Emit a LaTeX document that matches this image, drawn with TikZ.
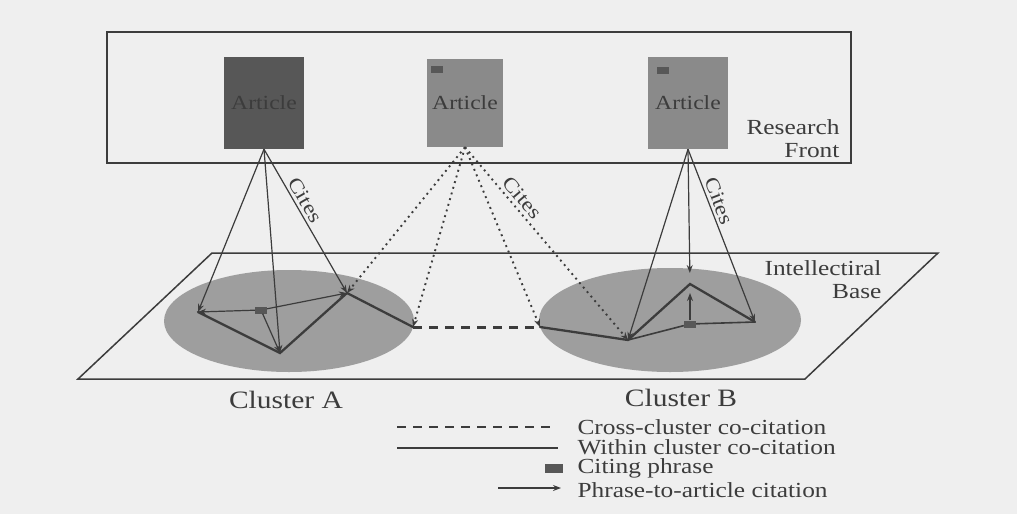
\documentclass[tikz,border=0pt]{standalone}
\usepackage{fontspec}
\setmainfont{Liberation Serif}[FakeStretch=1.18]
\usetikzlibrary{arrows.meta,shapes.geometric}
\definecolor{bgpaper}{HTML}{EFEFEF}
\definecolor{inkgray}{HTML}{3C3C3C}
\definecolor{artdark}{HTML}{575757}
\definecolor{artmid}{HTML}{8A8A8A}
\definecolor{clusgray}{HTML}{9E9E9E}

\begin{document}
\begin{tikzpicture}[x=1pt, y=-1pt,
  article/.style={rectangle, fill=artmid, minimum width=80pt, minimum height=92pt, inner sep=0pt, text=inkgray, font=\fontsize{20}{22}\selectfont},
  phrasebox/.style={rectangle, fill=artdark, minimum width=12pt, minimum height=7pt, inner sep=0pt},
  cluster/.style={ellipse, fill=clusgray, inner sep=0pt},
  cites/.style={inkgray, line width=1.2pt, -{Stealth[length=8pt,width=6pt]}},
  crosscite/.style={inkgray, line width=1.9pt, dash pattern=on 1.9pt off 4pt, -{Stealth[length=8pt,width=6pt]}},
  within/.style={inkgray, line width=2.3pt, line cap=round},
  crossco/.style={inkgray, line width=3pt, dash pattern=on 9pt off 7pt},
  lbl/.style={text=inkgray, font=\fontsize{21.5}{23}\selectfont},
  citelbl/.style={text=inkgray, font=\fontsize{20}{22}\selectfont, sloped, above},
]
\useasboundingbox (0,0) rectangle (1017,514);
\fill[bgpaper] (0,0) rectangle (1017,514);

% research front
\draw[inkgray, line width=1.6pt] (107,32) rectangle (851,163);
\node[article, fill=artdark] (art1) at (264,103) {Article};
\node[article, minimum width=76pt, minimum height=88pt] (art2) at (465,103) {Article};
\node[article] (art3) at (688,103) {Article};
\node[phrasebox] (ph2) at (437,69) {};
\node[phrasebox] (ph3) at (663,70) {};
\node[lbl, anchor=east, align=right] (front) at (843,139) {Research\\Front};

% intellectual base
\draw[inkgray, line width=1.5pt] (212,253) -- (938,253) -- (805,379) -- (78,379) -- cycle;
\node[lbl, anchor=east, align=right] (base) at (885,280) {Intellectiral\\Base};
\node[cluster, minimum width=250pt, minimum height=102pt] (clA) at (289,321) {};
\node[cluster, minimum width=262pt, minimum height=104pt] (clB) at (670,320) {};
\node[lbl, font=\fontsize{25}{27}\selectfont] (labA) at (286,400) {Cluster A};
\node[lbl, font=\fontsize{25}{27}\selectfont] (labB) at (681,398) {Cluster B};

% cluster A
\coordinate (a1) at (198,312);
\coordinate (a2) at (280,353);
\coordinate (a3) at (347,293);
\coordinate (a4) at (413,327);
\node[phrasebox] (pA) at (261,310) {};
% cluster B
\coordinate (b1) at (540,327);
\coordinate (b2) at (628,340);
\coordinate (b3) at (690,284);
\coordinate (b5) at (755,322);
\node[phrasebox] (pB) at (690,324) {};

% within and across clusters
\draw[within] (a1) -- (a2) -- (a3) -- (a4);
\draw[within] (b1) -- (b2) -- (b3) -- (b5);
\draw[inkgray, line width=1.6pt] (b2) -- (pB) -- (b5);
\draw[crossco] (a4) -- (b1);

% phrase to article
\draw[cites] (pA) -- (a1);
\draw[cites] (pA) -- (a3);
\draw[cites] (pA) -- (a2);
\draw[cites, shorten >=9pt] (pB) -- (b3);

% cites
\draw[cites] (art1.south) -- (a1);
\draw[cites] (art1.south) -- (a2);
\draw[cites] (art1.south) -- node[citelbl, pos=0.39] {Cites} (a3);
\draw[crosscite] (art2.south) -- (a3);
\draw[crosscite] (art2.south) -- (a4);
\draw[crosscite] (art2.south) -- (b1);
\draw[crosscite] (art2.south) -- node[citelbl, pos=0.3] {Cites} (b2);
\draw[cites] (art3.south) -- (b2);
\draw[cites, shorten >=11pt] (art3.south) -- (b3);
\draw[cites] (art3.south) -- node[citelbl, pos=0.32] {Cites} (b5);

% legend
\coordinate (ldash1) at (397,427);  \coordinate (ldash2) at (553,427);
\coordinate (lline1) at (397,448);  \coordinate (lline2) at (558,448);
\coordinate (larr1) at (498,488);   \coordinate (larr2) at (561,488);
\draw[crossco, line width=2.6pt] (ldash1) -- (ldash2);
\draw[within, line cap=butt] (lline1) -- (lline2);
\node[phrasebox, minimum width=18pt, minimum height=9pt] (lph) at (554,468) {};
\draw[cites] (larr1) -- (larr2);
\node[lbl, anchor=west] (t1) at (574,427) {Cross-cluster co-citation};
\node[lbl, anchor=west] (t2) at (574,447) {Within cluster co-citation};
\node[lbl, anchor=west] (t3) at (574,468) {Citing phrase};
\node[lbl, anchor=west] (t4) at (574,490) {Phrase-to-article citation};
\end{tikzpicture}
\end{document}
